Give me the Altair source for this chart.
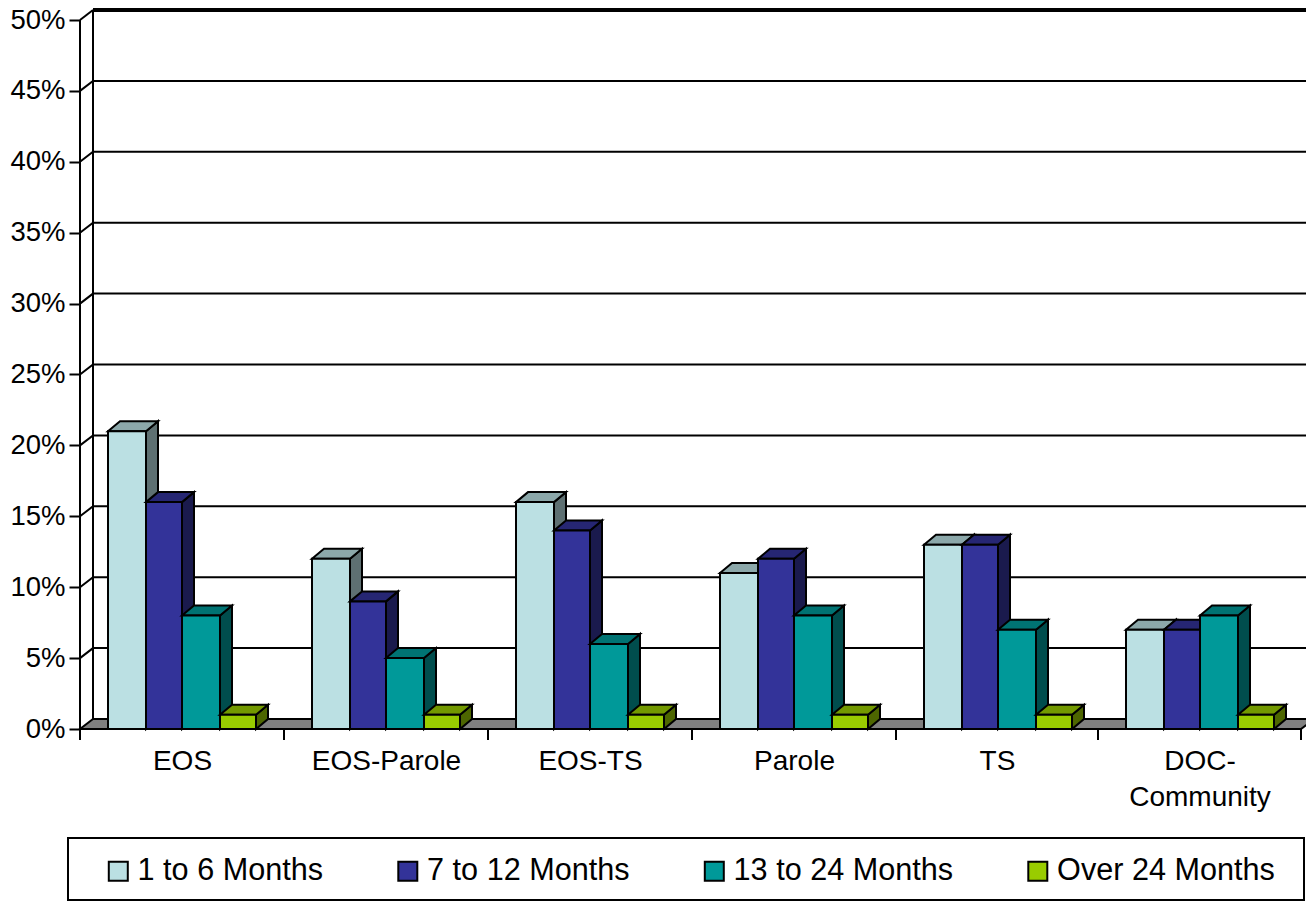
import json
import altair as alt
import pandas as pd

categories = ["EOS", "EOS-Parole", "EOS-TS", "Parole", "TS", "DOC-\nCommunity"]
series = ["1 to 6 Months", "7 to 12 Months", "13 to 24 Months", "Over 24 Months"]
values_1_6 = [21, 12, 16, 11, 13, 7]
values_7_12 = [16, 9, 14, 12, 13, 7]
values_13_24 = [8, 5, 6, 8, 7, 8]
values_over_24 = [1, 1, 1, 1, 1, 1]
all_values = [values_1_6, values_7_12, values_13_24, values_over_24]
y_ticks = list(range(0, 51, 5))

front = ["#BBE0E3", "#333399", "#009999", "#99CC00"]
top = ["#8CA8AA", "#262673", "#007373", "#739900"]
side = ["#5E7072", "#1A1A4D", "#004D4D", "#4D6600"]

FONT = "Liberation Sans"
W, H = 1226, 719
PX = 14.18
DX, DV = 13, 10 / PX
BAR_DX = 12
GROUP_EDGES = [0, 204, 408, 612, 816, 1018, 1221]
BAR_EDGES = [0, 38, 74, 112, 148]
LEAD = 28
PLOT_W = GROUP_EDGES[-1]

xs = alt.Scale(domain=[0, W], range=[0, W], nice=False, zero=False)
ys = alt.Scale(domain=[0, H / PX], nice=False, zero=False)

centers = [(GROUP_EDGES[i] + GROUP_EDGES[i + 1]) / 2 for i in range(len(categories))]
label_arr = json.dumps([c.split("\n") for c in categories])
x_axis = alt.Axis(
    values=centers, title=None, domain=False, ticks=False, grid=False,
    labelExpr=f"{label_arr}[floor(datum.value/204)]",
    labelFont=FONT, labelFontSize=28, labelColor="black", labelAngle=0,
    labelPadding=18, labelBaseline="top", labelOverlap=False, labelBound=False,
    labelFlush=False, labelLineHeight=36,
)
y_axis = alt.Axis(
    values=y_ticks, title=None, domain=False, grid=False, tickSize=11, tickWidth=2,
    tickColor="black", labelExpr="datum.value + '%'", labelFont=FONT, labelFontSize=27.5,
    labelColor="black", labelPadding=4, labelOverlap=False, labelBound=False,
    labelFlush=False,
)
X = lambda f: alt.X(f, type="quantitative", scale=xs, axis=x_axis)
Y = lambda f: alt.Y(f, type="quantitative", scale=ys, axis=y_axis)


def top_rows(key, x0, x1, v, dx):
    return [
        dict(k=key, x=x0, y=v, y2=v),
        dict(k=key, x=x0 + dx, y=v + DV, y2=v),
        dict(k=key, x=x1, y=v + DV, y2=v),
        dict(k=key, x=x1 + dx, y=v + DV, y2=v + DV),
    ]


def side_rows(key, x1, v, dx):
    return [
        dict(k=key, x=x1, y=v, y2=0),
        dict(k=key, x=x1 + dx, y=v + DV, y2=DV),
    ]


def area(rows, fill, sw=2):
    return alt.Chart(pd.DataFrame(rows)).mark_area(
        fill=fill, stroke="black", strokeWidth=sw, strokeJoin="miter", clip=False
    ).encode(x=X("x"), y=Y("y"), y2="y2", detail="k:N")


# Walls
grid_rows = []
for v in y_ticks[1:]:
    grid_rows += [
        dict(k=v, i=0, x=0, y=v),
        dict(k=v, i=1, x=DX, y=v + DV),
        dict(k=v, i=2, x=W, y=v + DV),
    ]
grid_df = pd.DataFrame(grid_rows)
grid = alt.Chart(grid_df[grid_df.k < 50]).mark_line(color="black", strokeWidth=2, clip=False).encode(
    x=X("x"), y=Y("y"), detail="k:N", order=alt.Order("i:Q"))
grid_top = alt.Chart(grid_df[(grid_df.k == 50) & (grid_df.i > 0)]).mark_line(
    color="black", strokeWidth=4, clip=False).encode(x=X("x"), y=Y("y"), order=alt.Order("i:Q"))
top_edge = alt.Chart(grid_df[(grid_df.k == 50) & (grid_df.i < 2)]).mark_line(
    color="black", strokeWidth=2, clip=False).encode(x=X("x"), y=Y("y"), order=alt.Order("i:Q"))
wall = alt.Chart(pd.DataFrame({"x": [DX], "y": [DV], "y2": [50 + DV]})).mark_rule(
    color="black", strokeWidth=2, clip=False).encode(x=X("x"), y=Y("y"), y2="y2")
floor = area(top_rows("floor", 0, PLOT_W, 0, DX), "#808080")

# Bars
bars = []
for s, name in enumerate(series):
    side_data, top_data, front_data = [], [], []
    for g in range(len(categories)):
        x0 = LEAD + GROUP_EDGES[g] + BAR_EDGES[s]
        x1 = LEAD + GROUP_EDGES[g] + BAR_EDGES[s + 1]
        v = all_values[s][g]
        side_data += side_rows(g, x1, v, BAR_DX)
        top_data += top_rows(g, x0, x1, v, BAR_DX)
        front_data.append(dict(x=x0, x2=x1, y=v, y2=0, series=name))
    bars.append(area(side_data, side[s]))
    bars.append(area(top_data, top[s]))
    bars.append(
        alt.Chart(pd.DataFrame(front_data)).mark_rect(stroke="black", strokeWidth=2, clip=False).encode(
            x=X("x"), x2="x2", y=Y("y"), y2="y2",
            color=alt.Color(
                "series:N",
                scale=alt.Scale(domain=series, range=front),
                legend=alt.Legend(
                    title=None, orient="none", legendX=23, legendY=846, direction="horizontal",
                    columns=4, columnPadding=69.5, symbolType="square", symbolSize=361,
                    symbolStrokeColor="black", symbolStrokeWidth=2, labelFont=FONT,
                    labelFontSize=30.6, labelColor="black", labelOffset=4, padding=0,
                    labelLimit=400,
                ),
            ),
        )
    )

# Front axis lines and category ticks
base_line = alt.Chart(pd.DataFrame({"x": [0], "x2": [PLOT_W], "y": [0]})).mark_rule(
    color="black", strokeWidth=2, clip=False).encode(x=X("x"), x2="x2", y=Y("y"))
y_line = alt.Chart(pd.DataFrame({"x": [0], "y": [0], "y2": [50]})).mark_rule(
    color="black", strokeWidth=2, clip=False).encode(x=X("x"), y=Y("y"), y2="y2")
cat_ticks = alt.Chart(pd.DataFrame({"x": GROUP_EDGES})).mark_rule(
    color="black", strokeWidth=2, clip=False).encode(x=X("x"), y=alt.value(H), y2=alt.value(H + 11))

# Legend frame
frame = alt.Chart(pd.DataFrame({"a": [0]})).mark_rect(
    fill="white", stroke="black", strokeWidth=2, clip=False
).encode(x=alt.value(-12), x2=alt.value(W - 2), y=alt.value(828), y2=alt.value(890))

chart = alt.layer(
    grid, grid_top, top_edge, wall, floor, frame, *bars, base_line, y_line, cat_ticks
).properties(
    width=W, height=H,
    autosize=alt.AutoSizeParams(type="none"),
    padding={"left": 72, "top": 2, "right": 0, "bottom": 172},
    background="white",
).configure_view(stroke=None)

chart.save("out.html", embed_options={"renderer": "svg", "actions": False})
